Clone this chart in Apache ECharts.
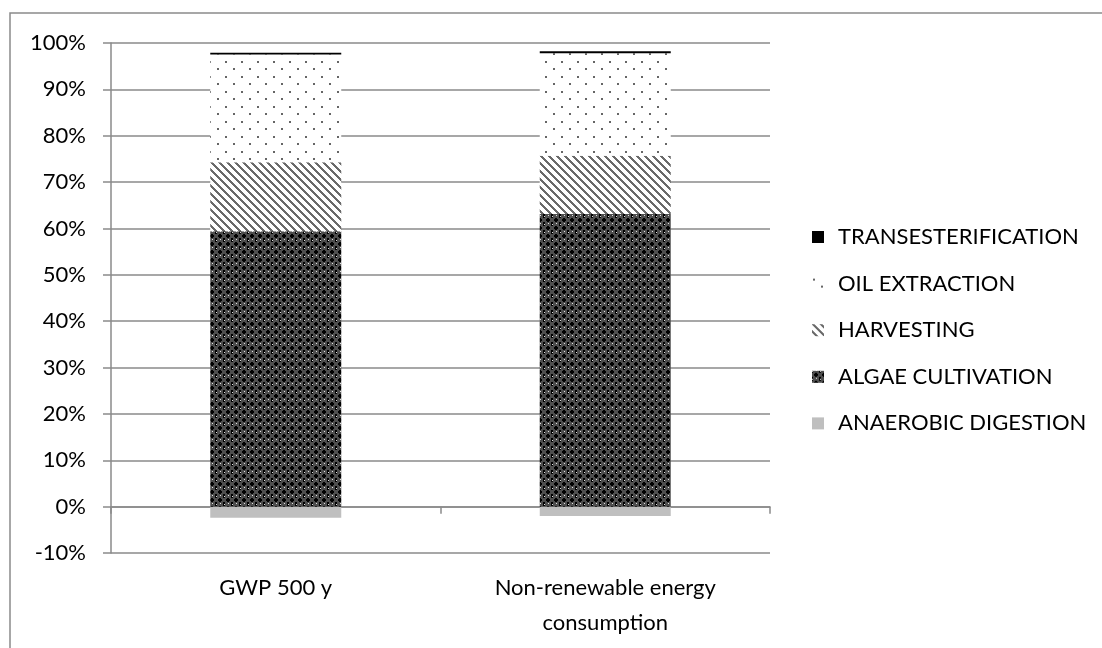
<!DOCTYPE html>
<html>
<head>
<meta charset="utf-8">
<script src="https://cdn.jsdelivr.net/npm/echarts@6/dist/echarts.min.js"></script>
<style>
  html, body { margin: 0; padding: 0; background: #fff; }
  #mychart { width: 1102px; height: 648px; }
</style>
</head>
<body>
<div id="mychart"></div>
<script>
// categories and values (percent)
var categories = ['GWP 500 y', 'Non-renewable energy\nconsumption']
var anaerobicDigestion = [-2.4, -2.0]
var algaeCultivation = [59.4, 63.1]
var harvesting = [14.9, 12.6]
var oilExtraction = [23.2, 22.1]
var transesterification = [0.4, 0.4]
var yTicks = [-10, 0, 10, 20, 30, 40, 50, 60, 70, 80, 90, 100]

var FONT = 'Lato'

// fill patterns like the excel ones
function makeTile(w, h, draw) {
  var c = document.createElement('canvas')
  c.width = w
  c.height = h
  var ctx = c.getContext('2d')
  draw(ctx)
  return { image: c, repeat: 'repeat' }
}

var algaeFill = makeTile(8, 8, function (ctx) {
  ctx.fillStyle = '#4e4e4e'
  ctx.fillRect(0, 0, 8, 8)
  ctx.fillStyle = '#000'
  ctx.fillRect(3, 2, 2, 4)
  ctx.fillRect(2, 3, 4, 2)
  ctx.fillRect(7, 6, 2, 4)
  ctx.fillRect(-1, 6, 2, 4)
  ctx.fillRect(7, -2, 2, 4)
  ctx.fillRect(-1, -2, 2, 4)
  ctx.fillStyle = '#e0e0e0'
  ctx.fillRect(0, 0, 1, 1)
  ctx.fillRect(4, 7, 1, 1)
})

var harvestFill = makeTile(8, 8, function (ctx) {
  ctx.fillStyle = '#fff'
  ctx.fillRect(0, 0, 8, 8)
  ctx.fillStyle = '#6a6a6a'
  for (var y = 0; y < 8; y++) {
    for (var x = 0; x < 8; x++) {
      var d = ((x - y) % 8 + 8) % 8
      if (d < 3) ctx.fillRect(x, y, 1, 1)
    }
  }
})

var oilFill = makeTile(16, 15, function (ctx) {
  ctx.fillStyle = '#fff'
  ctx.fillRect(0, 0, 16, 15)
  ctx.fillStyle = '#666'
  ctx.fillRect(1, 1, 2, 2)
  ctx.fillRect(9, 8, 2, 2)
})

var chartDom = document.getElementById('mychart')
var myChart = echarts.init(chartDom)

function barSeries(name, data, color) {
  return {
    name: name,
    type: 'bar',
    stack: 'total',
    barWidth: 131,
    xAxisIndex: 0,
    data: data,
    itemStyle: { color: color },
    emphasis: { disabled: true }
  }
}

var option = {
  animation: false,
  backgroundColor: '#fff',
  graphic: [{
    type: 'rect',
    shape: { x: 10, y: 13, width: 1200, height: 800 },
    style: { fill: 'none', stroke: '#8a8a8a', lineWidth: 1.5 },
    silent: true
  }],
  grid: { left: 111, right: 332, top: 43, bottom: 95 },
  legend: {
    orient: 'vertical',
    left: 812,
    top: 225,
    padding: 0,
    icon: 'rect',
    itemWidth: 12,
    itemHeight: 12,
    itemGap: 22.6,
    data: ['TRANSESTERIFICATION', 'OIL EXTRACTION', 'HARVESTING', 'ALGAE CULTIVATION', 'ANAEROBIC DIGESTION'],
    textStyle: { fontFamily: FONT, fontSize: 22, color: '#000', lineHeight: 24, padding: [0, 0, 0, 9] }
  },
  xAxis: [
    {
      type: 'category',
      data: categories,
      axisLine: { onZero: true, lineStyle: { color: '#8a8a8a', width: 1.5 } },
      axisTick: { show: true, length: 7, lineStyle: { color: '#8a8a8a', width: 1.5 } },
      axisLabel: { show: false }
    },
    {
      type: 'category',
      data: categories,
      position: 'bottom',
      axisLine: { show: false, onZero: false },
      axisTick: { show: false },
      axisLabel: { margin: 17, fontFamily: FONT, fontSize: 22, color: '#000', lineHeight: 35 }
    }
  ],
  yAxis: {
    type: 'value',
    min: yTicks[0],
    max: yTicks[yTicks.length - 1],
    interval: 10,
    axisLine: { show: true, lineStyle: { color: '#8a8a8a', width: 1.5 } },
    axisTick: { show: true, length: 8, lineStyle: { color: '#8a8a8a', width: 1.5 } },
    splitLine: { lineStyle: { color: '#8a8a8a', width: 1.5 } },
    axisLabel: { margin: 25, fontFamily: FONT, fontSize: 22, color: '#000', formatter: '{value}%' }
  },
  series: [
    barSeries('ANAEROBIC DIGESTION', anaerobicDigestion, '#bfbfbf'),
    barSeries('ALGAE CULTIVATION', algaeCultivation, algaeFill),
    barSeries('HARVESTING', harvesting, harvestFill),
    barSeries('OIL EXTRACTION', oilExtraction, oilFill),
    barSeries('TRANSESTERIFICATION', transesterification, '#000')
  ]
}
myChart.setOption(option)
</script>
</body>
</html>
